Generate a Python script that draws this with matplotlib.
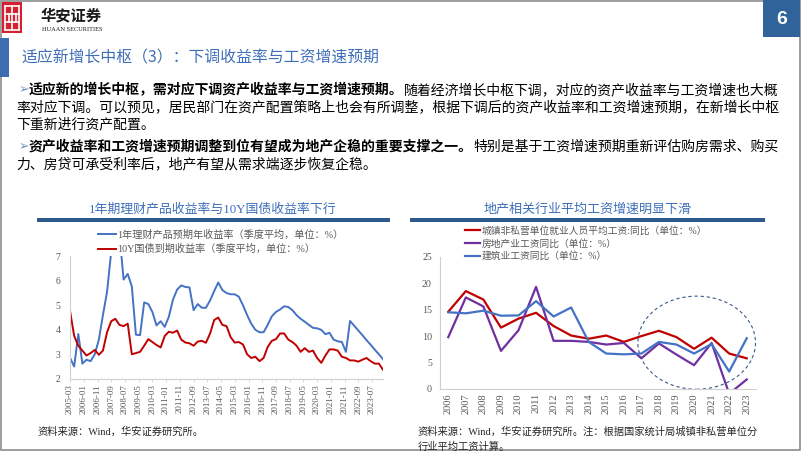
import numpy as np
import pandas as pd
import matplotlib
matplotlib.use("Agg")
import matplotlib.pyplot as plt
from matplotlib.patches import Rectangle, Ellipse
from matplotlib.lines import Line2D

# ---------------- data ----------------
wm_dates = pd.date_range("2005-03-01", periods=77, freq="3MS")
wm_yield = [2.86, 2.50, 3.83, 2.62, 2.78, 2.72, 3.00, 3.60, 4.60, 5.55,
            7.20, 7.80, 7.95, 6.05, 6.28, 5.77, 3.80, 3.78, 5.12, 5.05,
            4.73, 4.18, 4.35, 4.12, 4.53, 5.23, 5.64, 5.81, 5.75, 5.73,
            4.80, 5.05, 4.90, 4.90, 5.20, 5.58, 5.93, 5.62, 5.50, 5.45,
            5.45, 5.35, 5.00, 4.60, 4.25, 4.00, 3.90, 3.90, 4.20, 4.55,
            4.73, 4.83, 4.96, 4.93, 4.80, 4.60, 4.45, 4.33, 4.20, 4.08,
            4.06, 4.00, 3.82, 3.88, 3.60, 3.53, 3.50, 3.10, 4.36, 4.17,
            3.97, 3.78, 3.58, 3.39, 3.19, 3.00, 2.80]
cgb10y = [4.78, 3.75, 3.35, 3.15, 2.95, 3.05, 3.18, 2.98, 3.15, 3.90,
          4.35, 4.45, 4.20, 4.15, 4.25, 3.00, 3.05, 3.10, 3.35, 3.62,
          3.50, 3.38, 3.28, 3.75, 3.92, 3.88, 3.97, 3.60, 3.48, 3.45,
          3.35, 3.52, 3.55, 3.47, 3.85, 4.40, 4.50, 4.20, 4.15, 3.70,
          3.48, 3.50, 3.40, 3.00, 2.85, 2.90, 2.72, 2.85, 3.30, 3.55,
          3.62, 3.85, 3.85, 3.60, 3.50, 3.35, 3.10, 3.25, 3.10, 3.15,
          2.85, 2.65, 2.95, 3.20, 3.20, 3.15, 2.90, 2.85, 2.75, 2.75,
          2.70, 2.78, 2.85, 2.72, 2.62, 2.62, 2.37]
left_tick_labels = ["2005-03", "2006-01", "2006-11", "2007-09", "2008-07", "2009-05",
                    "2010-03", "2011-01", "2011-11", "2012-09", "2013-07", "2014-05",
                    "2015-03", "2016-01", "2016-11", "2017-09", "2018-07", "2019-05",
                    "2020-03", "2021-01", "2021-11", "2022-09", "2023-07"]
left_series_names = ["1年理财产品预期年收益率（季度平均，单位：%）",
                     "10Y国债到期收益率（季度平均，单位：%）"]

years = ["2006", "2007", "2008", "2009", "2010", "2011", "2012", "2013", "2014",
         "2015", "2016", "2017", "2018", "2019", "2020", "2021", "2022", "2023"]
wage_urban = [14.6, 18.5, 16.9, 11.6, 13.3, 14.4, 11.9, 10.1, 9.5,
              10.1, 8.9, 10.0, 11.0, 9.8, 7.6, 9.7, 6.7, 5.8]
wage_realestate = [9.8, 17.3, 15.6, 7.2, 11.1, 19.3, 9.1, 9.1, 8.9,
                   8.4, 8.7, 5.8, 8.6, 6.5, 4.5, 8.7, -0.9, 1.8]
wage_construction = [14.5, 14.3, 14.8, 13.85, 13.9, 16.6, 13.7, 15.4, 8.9,
                     6.7, 6.55, 6.7, 8.9, 8.4, 6.7, 8.5, 3.3, 9.6]
right_series_names = ["城镇非私营单位就业人员平均工资:同比（单位：%）",
                      "房地产业工资同比（单位：%）",
                      "建筑业工资同比（单位：%）"]

# ---------------- style ----------------
W, H = 802, 451
CJK = ["Liberation Serif", "Noto Sans CJK SC", "DejaVu Sans"]
SANS = ["Noto Sans CJK SC", "DejaVu Sans"]
plt.rcParams["font.family"] = CJK
plt.rcParams["axes.unicode_minus"] = False

C_BLUE = "#4472C4"
C_RED = "#C00000"
C_PURPLE = "#7030A0"
C_TITLE = "#3F6FB8"
C_BAR = "#2F5A8C"
C_TICK = "#595959"
C_AXIS = "#D0D0D0"


def fx(x):
    return x / W


def fy(y):
    return 1 - y / H


fig = plt.figure(figsize=(W / 100, H / 100), dpi=100)
fig.patch.set_facecolor("white")

# ---------------- header ----------------
# frame
fig.add_artist(Rectangle((fx(0.8), fy(450)), fx(800) - fx(0.8), fy(1) - fy(450),
                         transform=fig.transFigure, fill=False, ec="#8C8C8C", lw=1.2))
# logo
fig.add_artist(Rectangle((fx(2), fy(33)), fx(20), 31 / H, transform=fig.transFigure,
                         fc="#D42030", ec="none"))
for (x0, y0, x1, y1) in [(5, 6, 19, 6), (5, 30, 19, 30), (5, 6, 5, 30), (19, 6, 19, 30),
                         (12, 6, 12, 30), (5, 14, 19, 14), (5, 22, 19, 22),
                         (8.5, 14, 8.5, 22), (15.5, 14, 15.5, 22)]:
    fig.add_artist(Line2D([fx(x0), fx(x1)], [fy(y0), fy(y1)], transform=fig.transFigure,
                          color="white", lw=1.2))
fig.text(fx(41), fy(15), "华安证券", family=SANS, fontsize=11, fontweight="bold",
         color="#1A1A1A", va="center", ha="left", style="italic")
fig.text(fx(42), fy(29.5), "HUAAN SECURITIES", family=["Liberation Serif"], fontsize=4.6,
         color="#1A1A1A", va="center", ha="left")
# page number box
fig.add_artist(Rectangle((fx(762.7), fy(37)), fx(800) - fx(762.7), 37 / H,
                         transform=fig.transFigure, fc="#2F6399", ec="none"))
fig.text(fx(781.5), fy(19), "6", family=["Liberation Sans"], fontsize=14,
         fontweight="bold", color="white", ha="center", va="center")
# title bar
fig.add_artist(Rectangle((0, fy(77)), fx(9), 39 / H, transform=fig.transFigure,
                         fc="#3C6DB0", ec="none"))
fig.text(fx(21), fy(58), "适应新增长中枢（3）：下调收益率与工资增速预期", family=SANS,
         fontsize=11.4, color=C_TITLE, ha="left", va="center")

# ---------------- body text ----------------
BODY = 10
BULLET_C = "#7090C0"


def body_line(x, y, bold_txt, reg_txt, bullet=False):
    if bullet:
        fig.text(fx(18.5), fy(y), "➢", family=["DejaVu Sans"], fontsize=9,
                 color=BULLET_C, ha="left", va="center")
    cx = x
    if bold_txt:
        fig.text(fx(cx), fy(y), bold_txt, family=SANS, fontsize=BODY,
                 fontweight="bold", color="black", ha="left", va="center")
        cx += len(bold_txt) * BODY * 100 / 72
    if reg_txt:
        fig.text(fx(cx), fy(y), reg_txt, family=SANS, fontsize=BODY,
                 color="black", ha="left", va="center")


body_line(29, 90, "适应新的增长中枢，需对应下调资产收益率与工资增速预期。",
          "随着经济增长中枢下调，对应的资产收益率与工资增速也大概", bullet=True)
body_line(16.5, 107, "", "率对应下调。可以预见，居民部门在资产配置策略上也会有所调整，根据下调后的资产收益率和工资增速预期，在新增长中枢")
body_line(16.5, 124, "", "下重新进行资产配置。")
body_line(29, 147, "资产收益率和工资增速预期调整到位有望成为地产企稳的重要支撑之一。",
          "特别是基于工资增速预期重新评估购房需求、购买", bullet=True)
body_line(16.5, 164, "", "力、房贷可承受利率后，地产有望从需求端逐步恢复企稳。")

# ---------------- chart titles ----------------
fig.text(fx(213), fy(210), "1年期理财产品收益率与10Y国债收益率下行", family=CJK,
         fontsize=9.3, color=C_TITLE, ha="center", va="center")
fig.add_artist(Rectangle((fx(37), fy(222)), fx(390) - fx(37), 4 / H,
                         transform=fig.transFigure, fc=C_BAR, ec="none"))
fig.text(fx(588), fy(210), "地产相关行业平均工资增速明显下滑", family=CJK,
         fontsize=9.4, color=C_TITLE, ha="center", va="center")
fig.add_artist(Rectangle((fx(410), fy(222)), fx(765) - fx(410), 4 / H,
                         transform=fig.transFigure, fc=C_BAR, ec="none"))

# ---------------- left chart ----------------
ax1 = fig.add_axes([fx(70), fy(378.8), (383 - 70) / W, (378.8 - 256.3) / H])
l1, = ax1.plot(wm_dates, wm_yield, color=C_BLUE, lw=1.4, solid_joinstyle="round")
l2, = ax1.plot(wm_dates, cgb10y, color=C_RED, lw=1.4, solid_joinstyle="round")
ax1.set_ylim(2, 7)
ax1.set_xlim(wm_dates[0], wm_dates[-1])
tick_dates = pd.to_datetime([s + "-01" for s in left_tick_labels])
ax1.set_xticks(tick_dates)
ax1.set_xticklabels(left_tick_labels, rotation=90, fontsize=6.5, color=C_TICK,
                    family=["Liberation Serif"])
ax1.set_yticks([2, 3, 4, 5, 6, 7])
ax1.set_yticklabels(["2", "3", "4", "5", "6", "7"], fontsize=7, color=C_TICK,
                    family=["Liberation Serif"])
ax1.tick_params(axis="x", length=2.5, width=0.6, color=C_AXIS, pad=1.5)
ax1.tick_params(axis="y", length=0, pad=7)
for s in ["top", "right"]:
    ax1.spines[s].set_visible(False)
for s in ["left", "bottom"]:
    ax1.spines[s].set_color(C_AXIS)
    ax1.spines[s].set_linewidth(0.8)
ax1.set_facecolor("none")
ax1.legend([l1, l2], left_series_names, loc="upper left",
           bbox_to_anchor=(fx(98), fy(229.5)), bbox_transform=fig.transFigure,
           frameon=False, handlelength=1.75, handletextpad=0.15,
           labelspacing=0.42, borderpad=0, borderaxespad=0, labelcolor=C_TICK,
           prop={"family": CJK, "size": 7.3})

# ---------------- right chart ----------------
ax2 = fig.add_axes([fx(439.5), fy(389), 316 / W, (389 - 256.7) / H])
xr = np.arange(len(years))
r1, = ax2.plot(xr, wage_urban, color=C_RED, lw=1.6)
r2, = ax2.plot(xr, wage_realestate, color=C_PURPLE, lw=1.6)
r3, = ax2.plot(xr, wage_construction, color=C_BLUE, lw=1.6)
ax2.set_ylim(0, 25)
ax2.set_xlim(-0.5, len(years) - 0.5)
ax2.set_xticks(xr)
ax2.set_xticklabels(years, rotation=90, fontsize=7.5, color=C_TICK,
                    family=["Liberation Serif"])
ax2.set_yticks([0, 5, 10, 15, 20, 25])
ax2.set_yticklabels(["0", "5", "10", "15", "20", "25"], fontsize=7.2, color=C_TICK,
                    family=["Liberation Serif"])
ax2.tick_params(axis="x", length=0, pad=3)
ax2.tick_params(axis="y", length=0, pad=5.5)
for s in ["top", "right"]:
    ax2.spines[s].set_visible(False)
for s in ["left", "bottom"]:
    ax2.spines[s].set_color(C_AXIS)
    ax2.spines[s].set_linewidth(0.8)
ax2.set_facecolor("none")
ell = Ellipse((14.15, 8.75), 6.7, 17.6, fill=False, ec="#3A5A8C", lw=0.8,
              ls=(0, (3, 2.5)), clip_on=False)
ax2.add_patch(ell)
ax2.legend([r1, r2, r3], right_series_names, loc="upper left",
           bbox_to_anchor=(fx(465), fy(226)), bbox_transform=fig.transFigure,
           frameon=False, handlelength=1.55, handletextpad=0.2,
           labelspacing=0.3, borderpad=0, borderaxespad=0, labelcolor=C_TICK,
           prop={"family": CJK, "size": 7.0})

# ---------------- footnotes ----------------
fig.text(fx(37), fy(432), "资料来源：Wind，华安证券研究所。", family=CJK, fontsize=7.4,
         color="#262626", ha="left", va="center")
fig.text(fx(418), fy(432), "资料来源：Wind，华安证券研究所。注：根据国家统计局城镇非私营单位分",
         family=CJK, fontsize=7.4, color="#262626", ha="left", va="center")
fig.text(fx(418), fy(447), "行业平均工资计算。", family=CJK, fontsize=7.4,
         color="#262626", ha="left", va="center")

fig.savefig("out.png", dpi=100, facecolor="white")
